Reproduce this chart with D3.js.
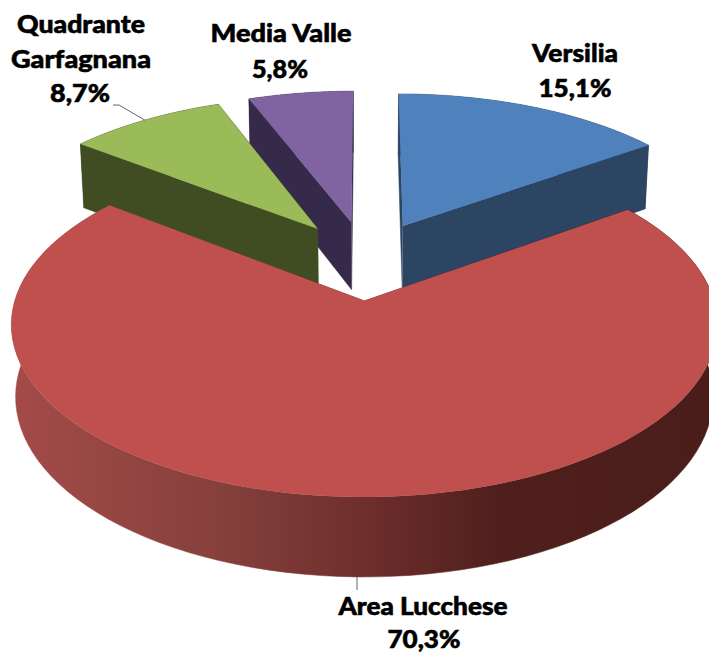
<!DOCTYPE html>
<html>
<head>
<meta charset="utf-8">
<script src="https://d3js.org/d3.v7.min.js"></script>
<style>
html, body { margin: 0; padding: 0; background: #fff; overflow: hidden; }
svg { display: block; }
</style>
</head>
<body>
<script>
var areas = ["Versilia", "Area Lucchese", "Quadrante Garfagnana", "Media Valle"];
var shares = [15.1, 70.3, 8.7, 5.8];

var topColors = ["#4f81bd", "#c0504d", "#9bbb59", "#8064a2"];
var sideColors = ["#2c4562", "url(#redSide)", "#404d22", "#362a4a"];

// label layout: one entry per line
var labelLines = [
	{text: "Versilia", x: 575, y: 62, w: 86},
	{text: "15,1%", x: 575, y: 97, w: 73},
	{text: "Area Lucchese", x: 423, y: 615, w: 169},
	{text: "70,3%", x: 424, y: 648, w: 73},
	{text: "Quadrante", x: 81, y: 33, w: 128},
	{text: "Garfagnana", x: 81, y: 68, w: 140},
	{text: "8,7%", x: 80, y: 102, w: 60},
	{text: "Media Valle", x: 281, y: 42, w: 141},
	{text: "5,8%", x: 280, y: 78, w: 56}
];

var w = 709;
var h = 654;
var explodeU = 0.245;
var explodeV = 0.25;
var camera = 7.5;
var thickness = 69;
var bottomShrink = 0.988;

var xScale = d3.scaleLinear().domain([-1, 1]).range([366 - 338, 366 + 338]);
var yScale = d3.scaleLinear().domain([-1, 1]).range([260 - 158, 260 + 158]);

// u = right, v = towards the viewer, z = 0 on top face and 1 on bottom face
function project(u, v, z) {
	var s = camera / (camera - v);
	var k = z ? bottomShrink : 1;
	var x = xScale(0) + (xScale(u) - xScale(0)) * s * k;
	var y = yScale(0) + (yScale(v) - yScale(0)) * s * k + z * thickness * s;
	return [x, y];
}

var pie = d3.pie().sort(null).value(function(d) { return d; });
var slices = pie(shares).map(function(d, i) {
	var mid = (d.startAngle + d.endAngle) / 2;
	return {
		i: i,
		a0: d.startAngle,
		a1: d.endAngle,
		ou: explodeU * Math.sin(mid),
		ov: -explodeV * Math.cos(mid)
	};
});

function rimPoint(s, a, z) {
	return project(s.ou + Math.sin(a), s.ov - Math.cos(a), z);
}
function apex(s, z) {
	return project(s.ou, s.ov, z);
}
function rim(s, z) {
	return d3.range(0, 101).map(function(t) {
		return rimPoint(s, s.a0 + (s.a1 - s.a0) * t / 100, z);
	});
}

var line = d3.line().curve(d3.curveLinear);

var svg = d3.select("body").append("svg").attr("width", w).attr("height", h);

var grad = svg.append("defs").append("linearGradient")
	.attr("id", "redSide")
	.attr("gradientUnits", "userSpaceOnUse")
	.attr("x1", 11).attr("x2", 709).attr("y1", 0).attr("y2", 0);
var stops = [[0, "#a34b49"], [0.3, "#86403c"], [0.5, "#6f2f2d"], [0.7, "#4f1f1d"], [1, "#4a1d1b"]];
stops.forEach(function(d) {
	grad.append("stop").attr("offset", d[0]).attr("stop-color", d[1]);
});

// paint from the back to the front
var order = slices.slice().sort(function(a, b) { return d3.ascending(a.ov, b.ov); });

var groups = svg.selectAll("g.slice").data(order).enter().append("g").attr("class", "slice");

groups.each(function(s) {
	var g = d3.select(this);
	var side = sideColors[s.i];
	var startWall = [apex(s, 0), rimPoint(s, s.a0, 0), rimPoint(s, s.a0, 1), apex(s, 1)];
	var endWall = [apex(s, 0), rimPoint(s, s.a1, 0), rimPoint(s, s.a1, 1), apex(s, 1)];
	var outerWall = rim(s, 0).concat(rim(s, 1).reverse());
	g.append("path").attr("d", line(startWall)).attr("fill", side).attr("stroke", side).attr("stroke-width", 0.5);
	g.append("path").attr("d", line(endWall)).attr("fill", side).attr("stroke", side).attr("stroke-width", 0.5);
	g.append("path").attr("d", line(outerWall)).attr("fill", side).attr("stroke", side).attr("stroke-width", 0.5);
	var face = [apex(s, 0)].concat(rim(s, 0));
	g.append("path").attr("d", line(face)).attr("fill", topColors[s.i]);
});

// leader lines
var greenMid = (slices[2].a0 + slices[2].a1) / 2;
var greenEnd = rimPoint(slices[2], greenMid, 0);
svg.append("path")
	.attr("d", line([[113, 105], [119, 105], greenEnd]))
	.attr("fill", "none").attr("stroke", "#666").attr("stroke-width", 1);
var redFoot = rimPoint(slices[1], Math.PI, 1);
svg.append("path")
	.attr("d", line([[357, redFoot[1]], [357, 590]]))
	.attr("fill", "none").attr("stroke", "#666").attr("stroke-width", 1);

var text = svg.selectAll("text").data(labelLines).enter().append("text");
text.text(function(d) { return d.text; });
text.attr("x", function(d) { return d.x; })
	.attr("y", function(d) { return d.y; })
	.attr("text-anchor", "middle")
	.attr("textLength", function(d) { return d.w; })
	.attr("lengthAdjust", "spacingAndGlyphs")
	.attr("font-family", "Lato, 'Open Sans', sans-serif")
	.attr("font-weight", 900)
	.attr("font-size", "25px")
	.attr("fill", "#000")
	.attr("stroke", "#000")
	.attr("stroke-width", 0.6);
</script>
</body>
</html>
